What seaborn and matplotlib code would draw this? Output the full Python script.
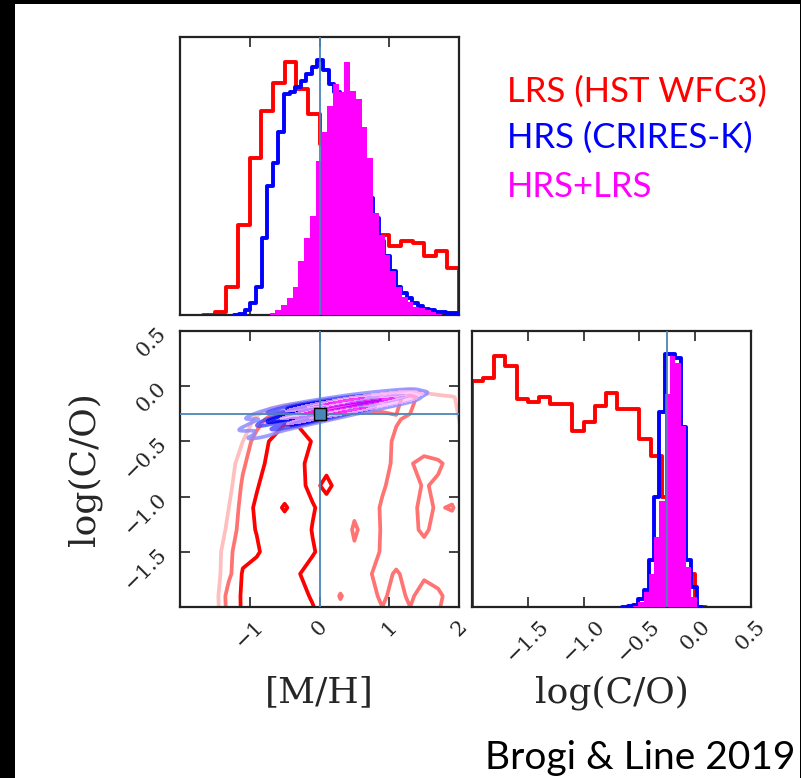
import numpy as np
import pandas as pd
import matplotlib
matplotlib.use("Agg")
import matplotlib.pyplot as plt
import seaborn as sns
from matplotlib.patches import Rectangle
from matplotlib.colors import ListedColormap

sns.set_style("ticks")
plt.rcParams['font.family'] = ['DejaVu Serif']

RED, BLUE, MAG = '#ff0000', '#0000ff', '#ff00ff'
TRUTH = '#4a86b8'
truth_mh, truth_co = 0.0, -0.255

# ---------------- marginal [M/H] histograms (start, bin width, heights) -------------
mh_lrs_start, mh_lrs_width = -1.5, 1 / 6
mh_lrs_counts = [10, 85, 268, 470, 608, 693, 755, 675, 600, 510, 420, 350, 300,
                 270, 240, 205, 220, 215, 175, 190, 140]
mh_hrs_start, mh_hrs_width = -1.15, 0.08
mh_hrs_counts = [3, 15, 35, 85, 230, 385, 455, 545, 660, 665, 680, 700, 720, 740,
                 760, 730, 690, 665, 640, 600, 560, 500, 430, 350, 290, 220, 175,
                 130, 85, 65, 50, 35, 28, 18, 14, 10, 8, 6, 5]
mh_comb_start, mh_comb_width = -0.715, 0.0824
mh_comb_counts = [5, 15, 30, 50, 85, 160, 230, 295, 460, 545, 625, 690, 665, 755,
                  670, 645, 560, 470, 305, 240, 180, 130, 85, 55, 40, 25, 20, 15, 8, 3]

# ---------------- marginal log(C/O) histograms -------------
co_lrs_start, co_lrs_width = -2.0, 0.1
co_lrs_counts = [680, 690, 755, 725, 625, 615, 632, 610, 610, 530, 555, 605, 645,
                 595, 595, 505, 455, 330, 200, 100]
co_hrs_start, co_hrs_width = -0.605, 0.0475
co_hrs_counts = [2, 5, 25, 50, 140, 330, 585, 762, 760, 750, 540, 140, 60]
co_comb_counts = [0, 3, 15, 45, 100, 210, 320, 640, 755, 735, 545, 120, 30]

# ---------------- 2D LRS density grid (rows: log(C/O), cols: [M/H]) -------------
lrs_grid_mh = [-2.1, -1.9, -1.7, -1.5, -1.3, -1.1, -0.9, -0.7, -0.5, -0.3, -0.1,
               0.1, 0.3, 0.5, 0.7, 0.9, 1.1, 1.3, 1.5, 1.7, 1.9, 2.1]
lrs_grid_co = [-2.1, -1.9, -1.7, -1.5, -1.3, -1.1, -0.9, -0.7, -0.5, -0.3, -0.1, 0.1]
lrs_grid = [
    [0, 0, 0, 0.4, 2.4, 3.1, 3.6, 3.7, 3.6, 3.4, 3.2, 2.7, 2.3, 2.4, 2.2, 2.1, 2.3, 2.1, 2.2, 2.0, 1.8, 1.6],
    [0, 0, 0, 0.5, 2.5, 3.1, 3.6, 3.7, 3.6, 3.3, 2.9, 2.5, 1.95, 2.4, 2.2, 1.9, 2.2, 1.9, 2.25, 2.1, 1.8, 1.6],
    [0, 0, 0, 0.5, 1.75, 3.1, 3.5, 3.6, 3.5, 3.05, 2.6, 2.5, 2.4, 2.3, 2.05, 1.85, 2.05, 1.85, 1.9, 1.8, 1.7, 1.6],
    [0, 0, 0, 0.4, 1.75, 2.7, 2.85, 3.5, 3.7, 3.5, 3.1, 2.6, 2.4, 2.1, 2.2, 1.95, 1.8, 1.75, 1.8, 1.7, 1.75, 1.6],
    [0, 0, 0, 0.3, 1.23, 2.6, 3.05, 3.5, 3.7, 3.6, 2.95, 2.6, 2.5, 1.9, 2.3, 1.95, 1.75, 1.85, 2.1, 1.8, 1.7, 1.5],
    [0, 0, 0, 0.2, 1.0, 2.43, 3.2, 3.6, 2.85, 3.6, 3.1, 2.6, 2.5, 2.15, 2.2, 1.95, 1.8, 1.9, 2.1, 1.95, 2.05, 1.6],
    [0, 0, 0, 0, 0.6, 2.2, 2.9, 3.6, 3.7, 3.3, 2.7, 3.25, 2.6, 2.45, 2.3, 2.05, 1.85, 1.8, 2.05, 1.9, 1.7, 1.5],
    [0, 0, 0, 0, 0.3, 1.8, 2.8, 3.15, 3.6, 3.3, 2.6, 2.7, 2.5, 2.4, 2.3, 2.15, 1.9, 1.95, 2.2, 2.1, 1.8, 1.5],
    [0, 0, 0, 0, 0, 1.0, 2.67, 3.05, 3.5, 3.4, 2.95, 2.7, 2.6, 2.5, 2.4, 2.2, 1.9, 1.7, 1.6, 1.5, 1.3, 0.9],
    [0, 0, 0, 0, 0, 0, 1.3, 2.5, 2.85, 2.8, 2.6, 2.5, 2.5, 2.45, 2.4, 2.3, 2.05, 1.9, 1.7, 1.5, 1.2, 0.8],
    [-0.5, -0.5, -0.5, -0.5, -0.5, -0.5, -0.5, -0.5, 0.0, 0.3, 0.5, 0.6, 0.8, 1.0, 1.2, 1.4, 1.8, 2.3, 1.6, 1.3, 1.1, 0.6],
    [-1.5] * 22,
]
lrs_levels = [1, 2, 3]

# ---------------- 2D ridges for HRS and HRS+LRS (weighted points) -------------
hrs_ridge_mh = [-0.85, -0.6, -0.35, -0.1, 0.15, 0.4, 0.65, 0.9, 1.15, 1.35]
hrs_ridge_co = [-0.36, -0.30, -0.265, -0.235, -0.205, -0.175, -0.15, -0.125, -0.1, -0.085]
hrs_ridge_w = [0.4, 0.8, 1.0, 1.0, 0.9, 0.75, 0.55, 0.4, 0.25, 0.15]
hrs_ridge_hw = [0.09, 0.08, 0.075, 0.07, 0.065, 0.06, 0.055, 0.05, 0.045, 0.04]

comb_ridge_mh = [-0.35, -0.1, 0.15, 0.4, 0.65, 0.9, 1.15, 1.35]
comb_ridge_co = [-0.27, -0.235, -0.205, -0.175, -0.15, -0.125, -0.1, -0.085]
comb_ridge_w = [0.25, 0.6, 0.9, 1.0, 0.85, 0.55, 0.3, 0.12]
comb_ridge_hw = [0.06, 0.055, 0.05, 0.05, 0.045, 0.04, 0.04, 0.035]

legend_labels = ['LRS (HST WFC3)', 'HRS (CRIRES-K)', 'HRS+LRS']
credit = 'Brogi & Line 2019'

# ======================================================================
W, H = 801, 778
fig = plt.figure(figsize=(W / 100, H / 100), dpi=100, facecolor='black')
fig.patches.append(Rectangle((15 / W, 0), (800 - 15) / W, (H - 4) / H,
                             transform=fig.transFigure, facecolor='white',
                             edgecolor='none', zorder=-10))


def ax_px(l, t, r, b):
    a = fig.add_axes([l / W, 1 - b / H, (r - l) / W, (b - t) / H])
    a.set_zorder(5)
    return a


ax_top = ax_px(180, 37, 459, 315)
ax_2d = ax_px(180, 331, 459, 607)
ax_rt = ax_px(472, 331, 751, 607)


def step_hist(ax, start, width, counts, fill=False, color='k', lw=2.8, z=2):
    vals = [0.0] + [float(v) for v in counts] + [0.0]
    edges = [start - width + width * i for i in range(len(vals) + 1)]
    df = pd.DataFrame({'x': [e + width / 2 for e in edges[:-1]], 'w': vals})
    if fill:
        sns.histplot(data=df, x='x', weights='w', bins=edges, element='step', fill=True,
                     color=color, alpha=1, linewidth=0, ax=ax, zorder=z)
    else:
        sns.histplot(data=df, x='x', weights='w', bins=edges, element='step', fill=False,
                     color=color, linewidth=lw, ax=ax, zorder=z)


TICK_FS, LABEL_FS = 15, 26

# ---- top: [M/H] marginals
step_hist(ax_top, mh_lrs_start, mh_lrs_width, mh_lrs_counts, color=RED, z=2)
step_hist(ax_top, mh_hrs_start, mh_hrs_width, mh_hrs_counts, color=BLUE, z=3)
step_hist(ax_top, mh_comb_start, mh_comb_width, mh_comb_counts, fill=True, color=MAG, z=4)
ax_top.axvline(truth_mh, color=TRUTH, lw=1.3, zorder=5)
ax_top.set_xlim(-2, 2)
ax_top.set_ylim(0, 830)
ax_top.set_xticks([-1, 0, 1])
ax_top.set_xticklabels([])
ax_top.set_yticks([])
ax_top.set_xlabel('')
ax_top.set_ylabel('')

# ---- right: log(C/O) marginals
step_hist(ax_rt, co_lrs_start, co_lrs_width, co_lrs_counts, color=RED, z=2)
step_hist(ax_rt, co_hrs_start, co_hrs_width, co_hrs_counts, color=BLUE, z=3)
step_hist(ax_rt, co_hrs_start, co_hrs_width, co_comb_counts, fill=True, color=MAG, z=4)
ax_rt.axvline(truth_co, color=TRUTH, lw=1.3, zorder=5)
ax_rt.set_xlim(-2, 0.5)
ax_rt.set_ylim(0, 830)
ax_rt.set_yticks([])
ax_rt.set_xticks([-1.5, -1.0, -0.5, 0.0, 0.5])
ax_rt.set_xticklabels(['\u22121.5', '\u22121.0', '\u22120.5', '0.0', '0.5'],
                      rotation=45, fontsize=TICK_FS)
ax_rt.set_ylabel('')
ax_rt.set_xlabel('log(C/O)', fontsize=LABEL_FS, va='center')
ax_rt.xaxis.set_label_coords(0.5, -0.31)

# ---- 2D panel
ax_2d.contour(lrs_grid_mh, lrs_grid_co, np.array(lrs_grid), levels=lrs_levels,
              colors=[(1, 0, 0, 0.25), (1, 0, 0, 0.55), (1, 0, 0, 1.0)],
              linewidths=2.7, zorder=2)


def ridge_samples(mx, my, w, hw):
    xs, ys, ws = [], [], []
    for a, b, c, d in zip(mx, my, w, hw):
        xs += [a, a, a]
        ys += [b - d, b, b + d]
        ws += [0.5 * c, c, 0.5 * c]
    return np.array(xs), np.array(ys), np.array(ws)


hx, hy, hw_ = ridge_samples(hrs_ridge_mh, hrs_ridge_co, hrs_ridge_w, hrs_ridge_hw)
blue_cmap = ListedColormap([(0.55, 0.55, 1), (0.3, 0.3, 1), (0, 0, 0.95)])
sns.kdeplot(x=hx, y=hy, weights=hw_, levels=[0.05, 0.3, 0.65], cmap=blue_cmap,
            linewidths=2.6, alpha=0.85, bw_adjust=0.6, ax=ax_2d, zorder=3)

cx, cy, cw = ridge_samples(comb_ridge_mh, comb_ridge_co, comb_ridge_w, comb_ridge_hw)
mag_cmap = ListedColormap([(1, 0.72, 1), (1, 0.4, 1), (1, 0, 1)])
sns.kdeplot(x=cx, y=cy, weights=cw, fill=True, levels=[0.05, 0.3, 0.6, 1.0],
            cmap=mag_cmap, alpha=0.7, bw_adjust=0.6, ax=ax_2d, zorder=4)

ax_2d.axvline(truth_mh, color=TRUTH, lw=1.3, zorder=5)
ax_2d.axhline(truth_co, color=TRUTH, lw=1.3, zorder=5)
ax_2d.plot([truth_mh], [truth_co], 's', color=TRUTH, mec='black', mew=1.0, ms=8, zorder=6)
ax_2d.set_xlim(-2, 2)
ax_2d.set_ylim(-2, 0.5)
ax_2d.set_xticks([-1, 0, 1, 2])
ax_2d.set_xticklabels(['\u22121', '0', '1', '2'], rotation=45, fontsize=TICK_FS)
ax_2d.set_yticks([-1.5, -1.0, -0.5, 0.0, 0.5])
ax_2d.set_yticklabels(['\u22121.5', '\u22121.0', '\u22120.5', '0.0', '0.5'],
                      rotation=45, fontsize=TICK_FS)
ax_2d.set_xlabel('[M/H]', fontsize=LABEL_FS, va='center')
ax_2d.xaxis.set_label_coords(0.5, -0.31)
ax_2d.set_ylabel('log(C/O)', fontsize=LABEL_FS, va='center')
ax_2d.yaxis.set_label_coords(-0.34, 0.5)

for ax in (ax_top, ax_2d, ax_rt):
    ax.set_facecolor('white')
    ax.tick_params(direction='in', length=7, width=1.2, top=True, bottom=True,
                   left=(ax is ax_2d), right=(ax is ax_2d), colors='#222222',
                   labelcolor='#222222', pad=7)
    for s in ax.spines.values():
        s.set_linewidth(1.6)
        s.set_color('#222222')

# ---- legend-like text and credit
for lab, col, yy in zip(legend_labels, [RED, BLUE, MAG], [92, 138, 187]):
    fig.text(507 / W, 1 - yy / H, lab, color=col, fontsize=25,
             family=['Lato', 'DejaVu Sans'], va='center', ha='left')
fig.text(795 / W, 1 - 769 / H, credit, color='black', fontsize=28,
         family=['Lato', 'DejaVu Sans'], va='baseline', ha='right')

fig.savefig('out.png', dpi=100, facecolor=fig.get_facecolor())
